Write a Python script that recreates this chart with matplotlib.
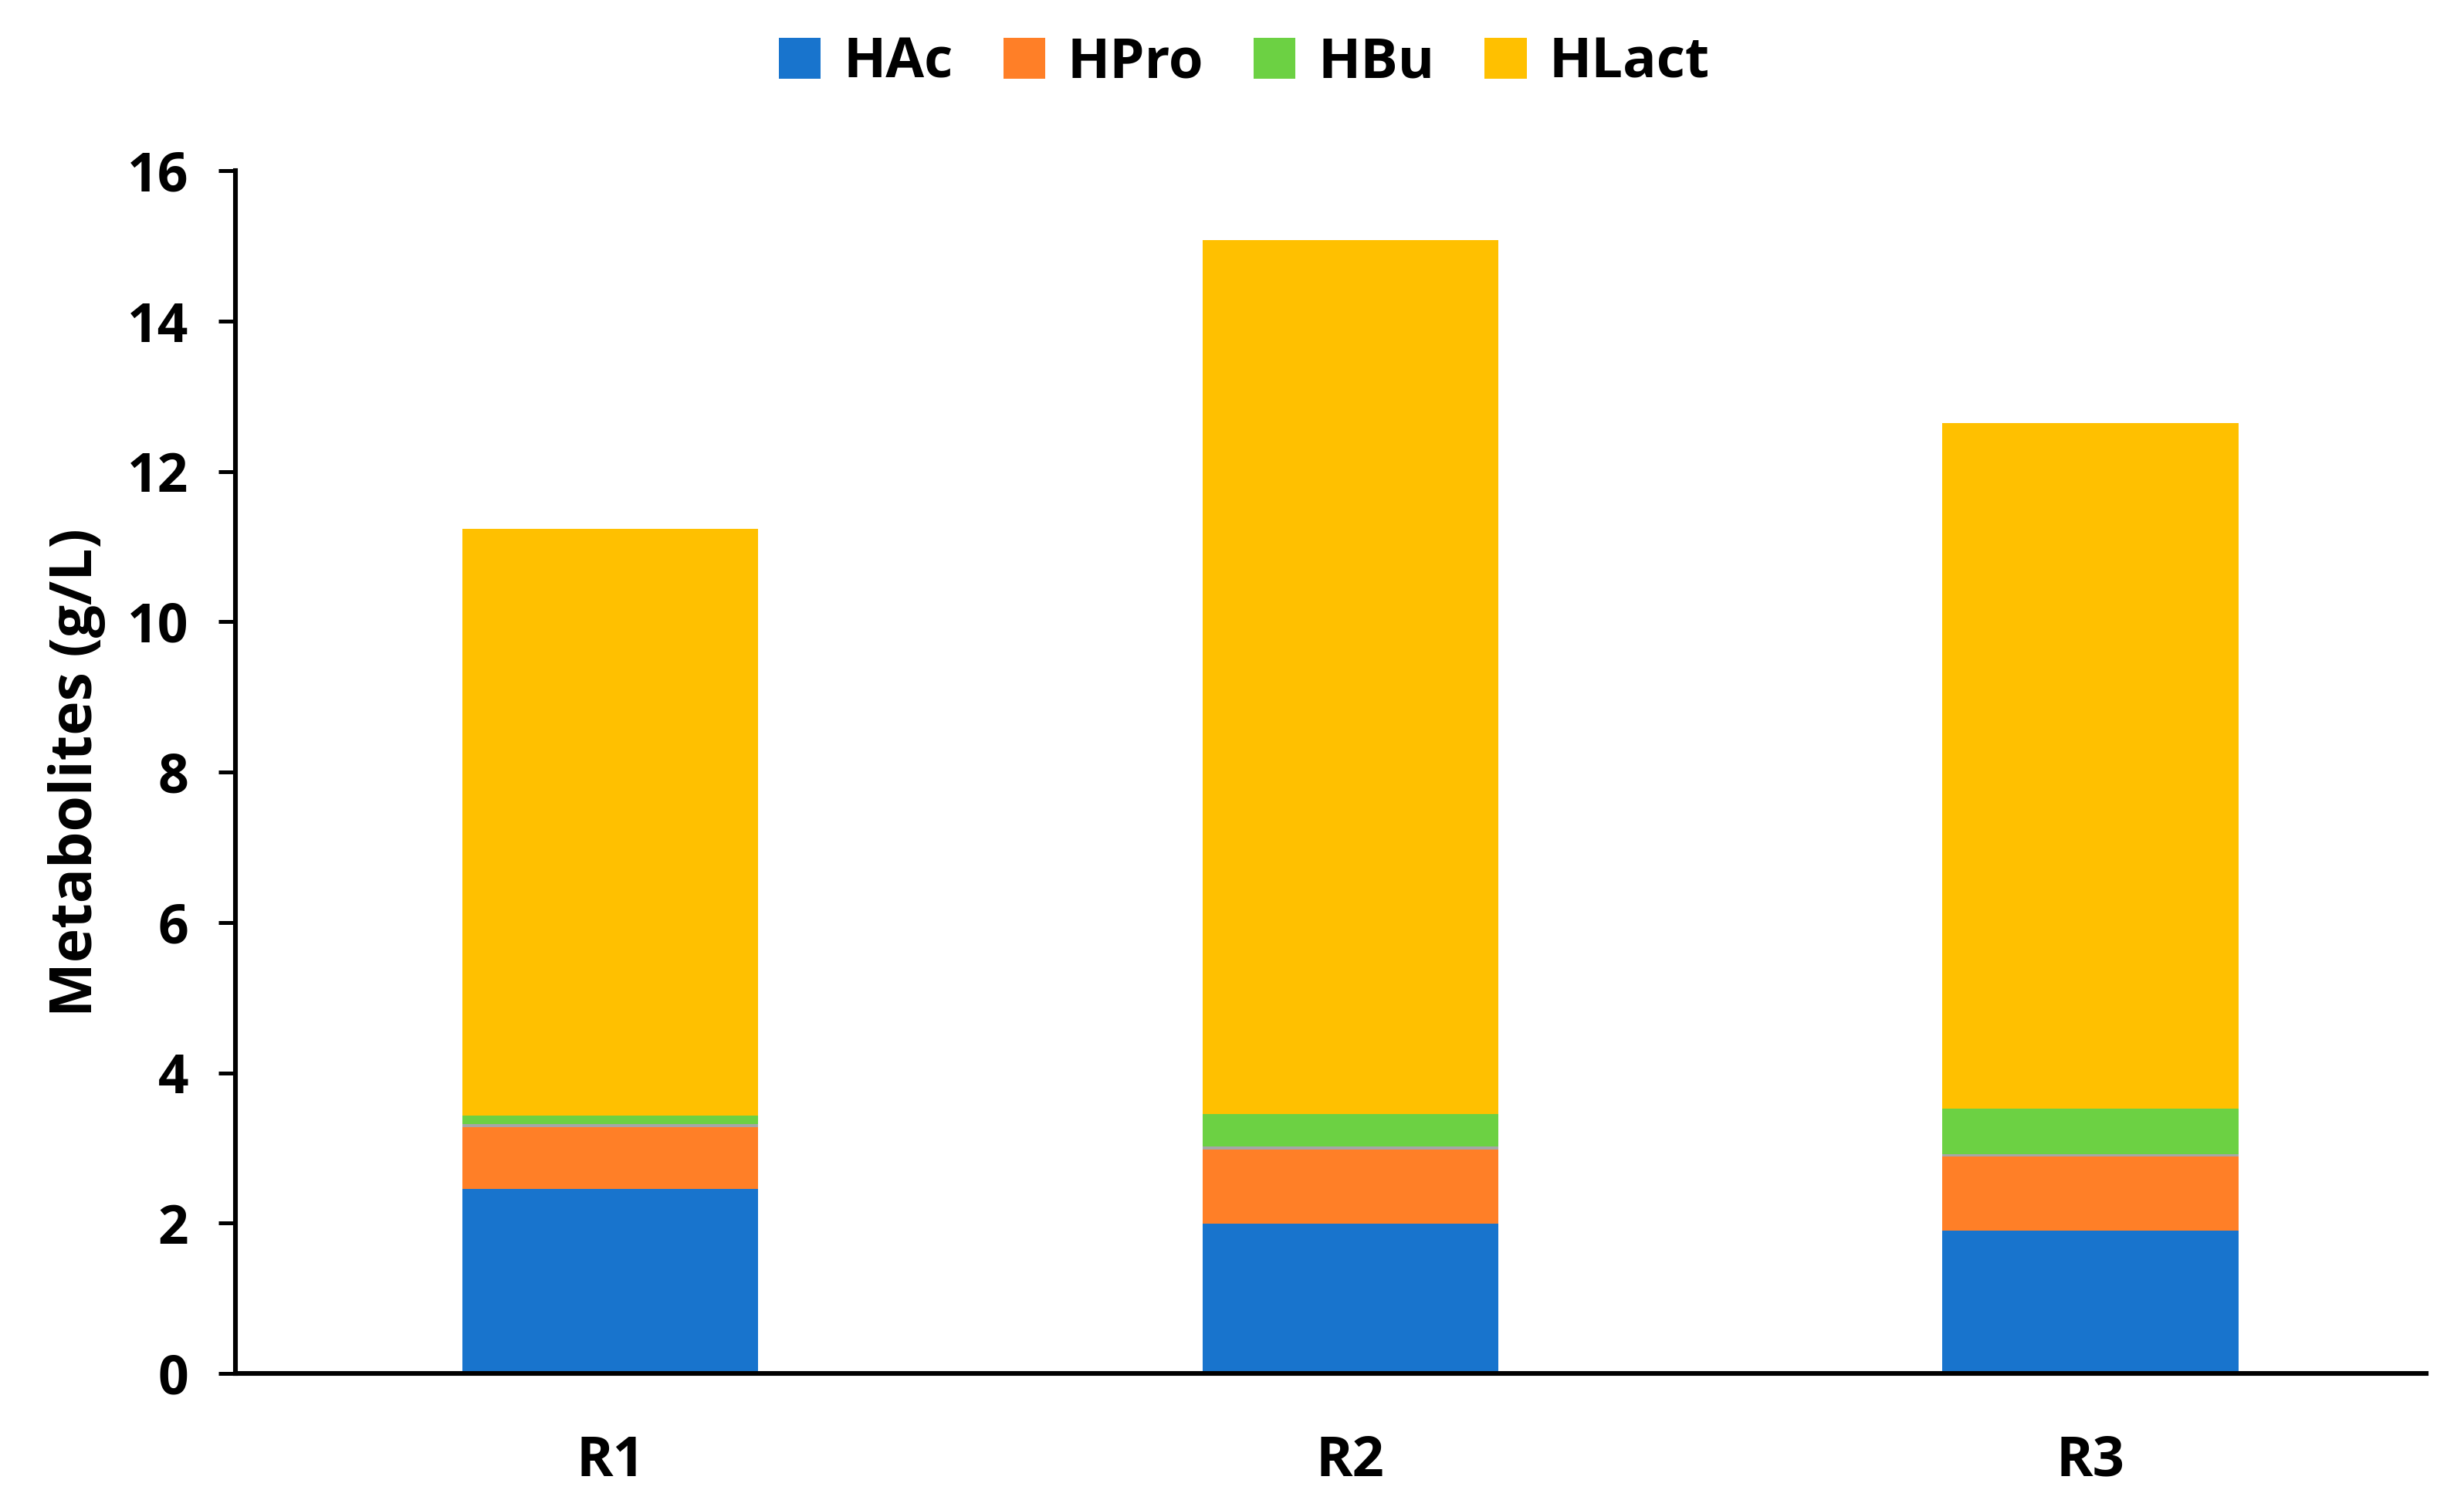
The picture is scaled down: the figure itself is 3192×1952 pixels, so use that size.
import matplotlib.pyplot as plt
import numpy as np

plt.rcParams['font.family'] = ['Open Sans', 'DejaVu Sans']
plt.rcParams['font.weight'] = 'bold'

# data (g/L)
reactors = ["R1", "R2", "R3"]
hac = [2.46, 1.99, 1.90]
hpro = [0.82, 0.99, 0.99]
other = [0.04, 0.04, 0.03]
hbu = [0.11, 0.43, 0.60]
hlact = [7.81, 11.63, 9.12]

colors = {"HAc": "#1874CD", "HPro": "#FF7F27", "HBu": "#6CD143", "HLact": "#FFC000"}

fig = plt.figure(figsize=(15.96, 9.76), dpi=200)
ax = fig.add_axes([0.0957, 0.0886, 0.889, 0.798])

x = np.arange(len(reactors))
width = 0.40
bottom = np.zeros(len(reactors))
series = [("HAc", hac), ("HPro", hpro), ("_other", other), ("HBu", hbu), ("HLact", hlact)]
for name, vals in series:
    col = colors.get(name, "#A6A6A6")
    ax.bar(x, vals, width, bottom=bottom, color=col, label=name, linewidth=0)
    bottom += np.array(vals)

ax.set_xlim(-0.506, 2.454)
ax.set_ylim(0, 16)
ax.set_yticks(range(0, 17, 2))
ax.set_xticks(x)
ax.set_xticklabels(reactors)
ax.tick_params(axis='y', labelsize=25, length=8, width=1.8, direction='out', pad=14)
ax.tick_params(axis='x', labelsize=26, length=0, pad=28)
ax.set_ylabel("Metabolites (g/L)", fontsize=27, fontweight='bold', labelpad=10)

for s in ["top", "right"]:
    ax.spines[s].set_visible(False)
ax.spines["left"].set_linewidth(2.2)
ax.spines["bottom"].set_linewidth(2.2)

handles, labels = ax.get_legend_handles_labels()
keep = [i for i, l in enumerate(labels) if not l.startswith("_")]
fig.legend([handles[i] for i in keep], [labels[i] for i in keep],
           loc='center', bbox_to_anchor=(0.505, 0.958), ncol=4, frameon=False,
           fontsize=26, handlelength=0.75, handleheight=0.75, handletextpad=0.4,
           columnspacing=0.9)

fig.savefig("out.png", dpi=200)
